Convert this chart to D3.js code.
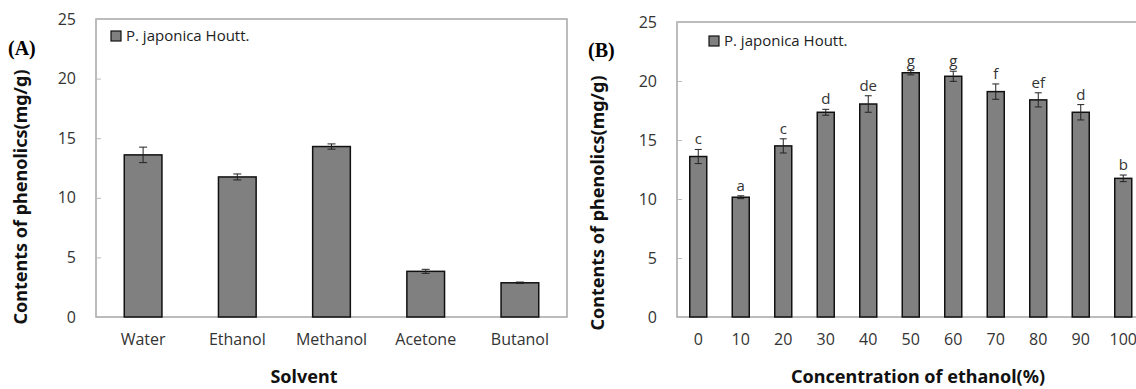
<!DOCTYPE html>
<html>
<head>
<meta charset="utf-8">
<script src="https://cdn.jsdelivr.net/npm/d3@7"></script>
<style>
  body { margin: 0; background: #fff; }
  svg { display: block; }
  .tick text { font-family: "Open Sans", sans-serif; font-size: 16px; fill: #333; }
</style>
</head>
<body>
<div id="chart"></div>
<script>
(function() {
  // panel A: solvents
  var solvents = ['Water', 'Ethanol', 'Methanol', 'Acetone', 'Butanol'];
  var solventMeans = [13.6, 11.75, 14.3, 3.83, 2.87];
  var solventErr = [0.65, 0.25, 0.22, 0.17, 0.06];

  // panel B: ethanol concentration
  var concentrations = ['0', '10', '20', '30', '40', '50', '60', '70', '80', '90', '100'];
  var concMeans = [13.6, 10.15, 14.5, 17.35, 18.05, 20.7, 20.4, 19.1, 18.4, 17.35, 11.75];
  var concErr = [0.6, 0.12, 0.6, 0.25, 0.7, 0.18, 0.43, 0.65, 0.6, 0.65, 0.28];
  var letters = ['c', 'a', 'c', 'd', 'de', 'g', 'g', 'f', 'ef', 'd', 'b'];

  var yTicks = [0, 5, 10, 15, 20, 25];
  var legendName = 'P. japonica Houtt.';

  var svg = d3.select('#chart').append('svg')
    .attr('width', 1136)
    .attr('height', 389);

  function panel(opt) {
    var g = svg.append('g');
    var x = d3.scaleBand()
      .domain(opt.cats)
      .range([opt.left, opt.left + opt.step * opt.cats.length])
      .paddingInner(0.6)
      .paddingOuter(0.3);
    var y = d3.scaleLinear().domain([0, 25]).range([opt.bottom, opt.top]);

    // plot border
    g.append('rect')
      .attr('x', opt.left).attr('y', y(25))
      .attr('width', opt.right - opt.left)
      .attr('height', y(0) - y(25))
      .attr('fill', 'none')
      .attr('stroke', '#a6a6a6')
      .attr('stroke-width', 1.5);

    var ya = g.append('g')
      .attr('transform', 'translate(' + opt.left + ',0)')
      .call(d3.axisLeft(y).tickValues(yTicks).tickSize(-5).tickPadding(20));
    ya.select('.domain').remove();
    ya.selectAll('.tick line').attr('stroke', '#bbb');

    var xa = g.append('g')
      .attr('transform', 'translate(0,' + y(0) + ')')
      .call(d3.axisBottom(x).tickSize(0).tickPadding(17));
    xa.select('.domain').remove();

    g.selectAll('rect.bar')
      .data(opt.means)
      .enter().append('rect')
      .attr('class', 'bar')
      .attr('x', function(d, i) { return x(opt.cats[i]); })
      .attr('y', function(d) { return y(d); })
      .attr('width', x.bandwidth())
      .attr('height', function(d) { return y(0) - y(d); })
      .attr('fill', '#808080')
      .attr('stroke', '#111')
      .attr('stroke-width', 1.5);

    // error bars
    opt.means.forEach(function(m, i) {
      var cx = x(opt.cats[i]) + x.bandwidth() / 2;
      var e = opt.err[i];
      var cw = opt.cap;
      g.append('path')
        .attr('d', 'M' + cx + ' ' + y(m + e) + ' V' + y(m - e) +
          ' M' + (cx - cw) + ' ' + y(m + e) + ' H' + (cx + cw) +
          ' M' + (cx - cw) + ' ' + y(m - e) + ' H' + (cx + cw))
        .attr('stroke', '#222')
        .attr('stroke-width', 1)
        .attr('fill', 'none');
      if (opt.letters) {
        g.append('text')
          .attr('x', cx)
          .attr('y', y(m + e) - 5)
          .attr('text-anchor', 'middle')
          .attr('font-family', '"Open Sans", sans-serif')
          .attr('font-size', 15)
          .attr('fill', '#333')
          .text(opt.letters[i]);
      }
    });

    // legend
    g.append('rect')
      .attr('x', opt.legX).attr('y', opt.legY - 5)
      .attr('width', 10).attr('height', 10)
      .attr('fill', '#808080')
      .attr('stroke', '#111')
      .attr('stroke-width', 1.2);
    g.append('text')
      .attr('x', opt.legX + 15).attr('y', opt.legY + 5)
      .attr('font-family', '"Open Sans", sans-serif')
      .attr('font-size', 15)
      .attr('fill', '#222')
      .text(legendName);

    // axis titles
    g.append('text')
      .attr('transform', 'translate(' + opt.yTitleX + ',' + opt.yTitleY + ') rotate(-90)')
      .attr('text-anchor', 'middle')
      .attr('font-family', '"Noto Sans", sans-serif')
      .attr('font-weight', 'bold')
      .attr('font-size', 18)
      .attr('fill', '#111')
      .text('Contents of phenolics(mg/g)');
    g.append('text')
      .attr('x', opt.xTitleX).attr('y', 383)
      .attr('text-anchor', 'middle')
      .attr('font-family', '"Noto Sans", sans-serif')
      .attr('font-weight', 'bold')
      .attr('font-size', 18)
      .attr('fill', '#111')
      .text(opt.xTitle);

    // panel tag
    g.append('text')
      .attr('x', opt.tagX).attr('y', opt.tagY)
      .attr('font-family', '"Liberation Serif", "Times New Roman", serif')
      .attr('font-weight', 'bold')
      .attr('font-size', 20)
      .attr('fill', '#000')
      .text(opt.tag);
  }

  panel({
    cats: solvents, means: solventMeans, err: solventErr,
    left: 96, right: 567, step: 94.2, top: 19, bottom: 317,
    cap: 4, legX: 111, legY: 36,
    yTitleX: 27, yTitleY: 197, xTitleX: 304, xTitle: 'Solvent',
    tag: '(A)', tagX: 8, tagY: 55
  });

  panel({
    cats: concentrations, means: concMeans, err: concErr, letters: letters,
    left: 677, right: 1150, step: 42.5, top: 22, bottom: 317,
    cap: 3.5, legX: 709, legY: 41,
    yTitleX: 604, yTitleY: 203, xTitleX: 918, xTitle: 'Concentration of ethanol(%)',
    tag: '(B)', tagX: 588, tagY: 57
  });
})();
</script>
</body>
</html>
